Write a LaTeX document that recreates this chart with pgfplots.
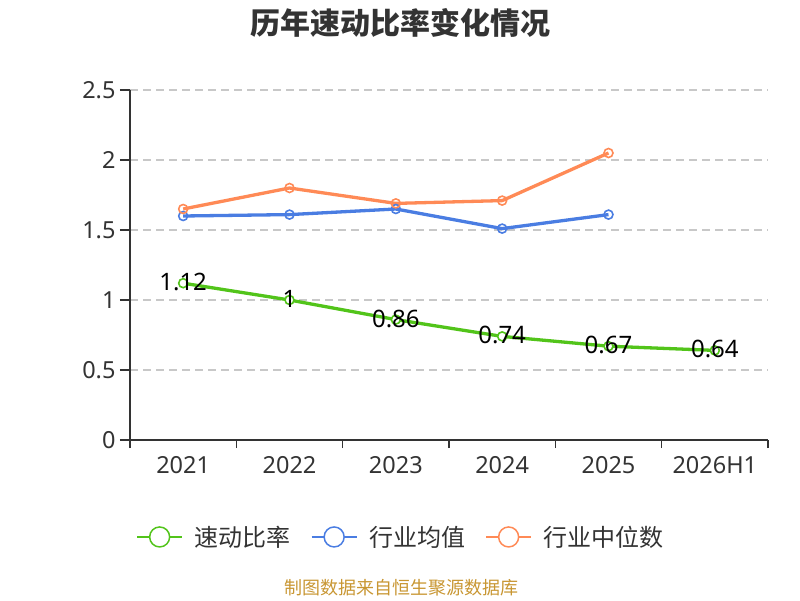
\documentclass[border=0pt]{standalone}
\usepackage{fontspec}
\setmainfont{Noto Sans}
\newfontfamily\cjk{Noto Sans CJK SC}
\usepackage{pgfplots}
\pgfplotsset{compat=1.18}
\definecolor{cg}{RGB}{82,196,26}
\definecolor{cb}{RGB}{74,125,226}
\definecolor{co}{RGB}{255,138,86}
\definecolor{ct}{RGB}{51,51,51}
\definecolor{cf}{RGB}{200,150,50}
\definecolor{cgrid}{RGB}{200,200,200}
\begin{document}
\begin{tikzpicture}[x=1pt,y=1pt]
\path[use as bounding box] (0,0) rectangle (800,600);
\node[font=\cjk\bfseries\fontsize{30}{34}\selectfont, text=ct] at (400,577) {历年速动比率变化情况};
\node[font=\cjk\fontsize{18}{21}\selectfont, text=cf] at (401,12) {制图数据来自恒生聚源数据库};
\begin{axis}[
  at={(130pt,160pt)}, anchor=south west,
  width=638pt, height=350pt, scale only axis,
  xmin=-0.5, xmax=5.5, ymin=0, ymax=2.5,
  axis x line=bottom, axis y line=left,
  axis line style={draw=ct, line width=1.5pt, -},
  xtick={0,1,2,3,4,5},
  xticklabels={2021,2022,2023,2024,2025,2026H1},
  minor xtick={-0.5,0.5,1.5,2.5,3.5,4.5,5.5},
  major x tick style={draw=none},
  minor x tick style={draw=ct, line width=1.5pt},
  minor tick length=8pt,
  ytick={0,0.5,1,1.5,2,2.5},
  yticklabels={0,0.5,1,1.5,2,2.5},
  y tick style={draw=ct, line width=1.5pt},
  major tick length=10pt,
  tick align=outside,
  ymajorgrids,
  y grid style={draw=cgrid, line width=1.5pt, dash pattern=on 8pt off 5pt},
  tick label style={font=\fontsize{23.5}{26}\selectfont, text=ct},
  xticklabel style={yshift=-3pt},
  yticklabel style={xshift=-1pt},
  /pgf/number format/assume math mode=true,
  clip=false,
  legend style={at={(0.425,-0.277)}, anchor=center, draw=none, fill=none,
    legend columns=-1, font=\cjk\fontsize{24}{28}\selectfont, text=ct,
    /tikz/every odd column/.append style={column sep=10pt},
    /tikz/every even column/.append style={column sep=18pt}},
  legend image code/.code={
    \draw[#1, line width=1.5pt, mark=none] (0pt,0pt) -- (45pt,0pt);
    \draw[#1, line width=1.5pt, fill=white, mark=none] (22.5pt,0pt) circle (10pt);
  },
]
\addplot[color=cb, line width=3.3pt, mark=o, mark size=4.5pt, mark options={fill=white, line width=1.6pt}, forget plot]
  coordinates {(0,1.60) (1,1.61) (2,1.65) (3,1.51) (4,1.61)};
\addplot[color=co, line width=3.3pt, mark=o, mark size=4.5pt, mark options={fill=white, line width=1.6pt}, forget plot]
  coordinates {(0,1.65) (1,1.80) (2,1.69) (3,1.71) (4,2.05)};
\addplot[color=cg, line width=3.3pt, mark=*, mark size=4.5pt, mark options={fill=white, line width=1.6pt},
  nodes near coords, nodes near coords align={center},
  every node near coord/.append style={font=\fontsize{24}{27}\selectfont, text=black, anchor=center, yshift=1pt},
  forget plot]
  coordinates {(0,1.12) (1,1.00) (2,0.86) (3,0.74) (4,0.67) (5,0.64)};
\addlegendimage{color=cg}
\addlegendentry{速动比率}
\addlegendimage{color=cb}
\addlegendentry{行业均值}
\addlegendimage{color=co}
\addlegendentry{行业中位数}
\end{axis}
\end{tikzpicture}
\end{document}
